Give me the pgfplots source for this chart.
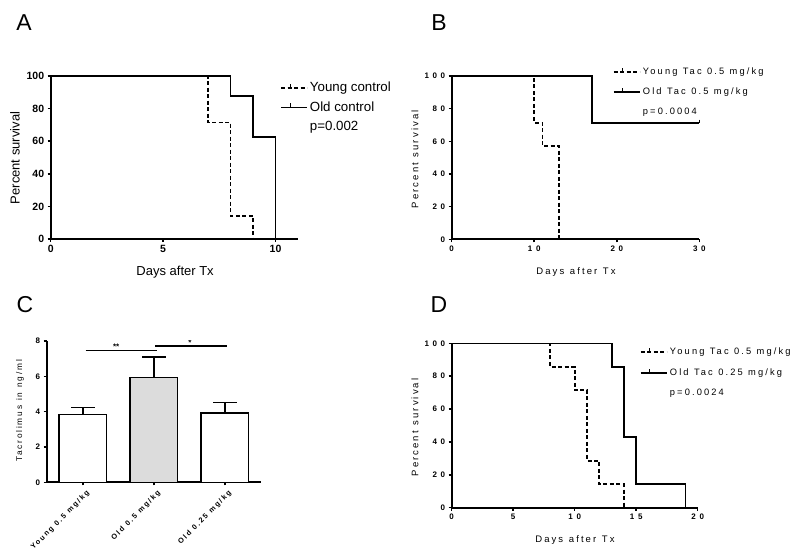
\documentclass[border=0pt]{standalone}
\usepackage{fontspec}
\setmainfont{Liberation Sans}
\newfontfamily\spc[LetterSpace=22,WordSpace=1.2]{Liberation Sans}
\newfontfamily\spl[LetterSpace=23,WordSpace=1.15]{Liberation Sans}
\newfontfamily\spt[LetterSpace=45]{Liberation Sans}
\usepackage{pgfplots}
\pgfplotsset{compat=1.18}
\definecolor{midgray}{HTML}{DCDCDC}
\pgfplotsset{
 base/.style={scale only axis, axis lines=left, axis line style={-, line width=1.8pt},
   tick style={black, line width=1.5pt}, tick align=outside, major tick length=3pt,
   /pgf/number format/assume math mode=true, clip=true},
 km/.style={base, ymin=0, ymax=100, ytick={0,20,...,100},
   legend cell align=left,
   legend image code/.code={\path (0pt,0pt) -- (26pt,0pt); \draw[##1] (0pt,0pt) -- (18pt,0pt); \draw[##1,solid,line width=1pt] (9pt,0pt) -- (9pt,4pt);}},
 dsh/.style={black, line width=1.8pt, dash pattern=on 4pt off 2.5pt, const plot},
 sld/.style={black, line width=1.8pt, const plot},
 smallfont/.style={ticklabel style={font=\spt\bfseries\fontsize{8}{9}\selectfont},
   label style={font=\spc\fontsize{9.5}{11}\selectfont}},
}
\begin{document}
\begin{tikzpicture}[x=1pt,y=1pt]
\useasboundingbox (0,0) rectangle (800,556);
\node at (24,533) {\fontsize{23}{25}\selectfont A};
\node at (439,533) {\fontsize{23}{25}\selectfont B};
\node at (25,251.5) {\fontsize{23}{25}\selectfont C};
\node at (439,251.5) {\fontsize{23}{25}\selectfont D};

% Panel A
\begin{axis}[km, at={(50.7pt,317pt)}, anchor=south west, width=247.3pt, height=163pt,
  xmin=0, xmax=11, xtick={0,5,10},
  ticklabel style={font=\bfseries\fontsize{10.5}{12}\selectfont},
  label style={font=\fontsize{13}{15}\selectfont},
  xlabel={Days after Tx}, ylabel={Percent survival},
  xlabel style={at={(axis description cs:0.503,-0.202)}, anchor=center},
  ylabel style={at={(axis description cs:-0.144,0.497)}, anchor=center},
  legend style={at={(0.927,0.975)}, anchor=north west, draw=none, fill=none,
    font=\fontsize{13.3}{15}\selectfont, inner sep=0pt, row sep=4.5pt}]
\addplot[dsh] coordinates {(0,100) (7,71.43) (8,14.29) (9,0)};
\addlegendentry{Young control}
\addplot[sld] coordinates {(0,100) (8,87.5) (9,62.5) (10,0)};
\addlegendentry{Old control}
\addlegendimage{empty legend}
\addlegendentry{p=0.002}
\end{axis}

% Panel B
\begin{axis}[km, smallfont, at={(451.7pt,316.7pt)}, anchor=south west, width=247.6pt, height=163.3pt,
  xmin=0, xmax=30, xtick={0,10,20,30},
  xlabel={Days after Tx}, ylabel={Percent survival},
  xlabel style={at={(axis description cs:0.502,-0.2)}, anchor=center},
  ylabel style={at={(axis description cs:-0.148,0.49)}, anchor=center},
  legend style={at={(0.651,1.065)}, anchor=north west, draw=none, fill=none,
    font=\spl\fontsize{9.3}{11}\selectfont, inner sep=0pt, row sep=8pt}]
\addplot[dsh] coordinates {(0,100) (10,71.43) (11,57.14) (13,0)};
\addlegendentry{Young Tac 0.5 mg/kg}
\addplot[sld] coordinates {(0,100) (17,71.43) (30,71.43)};
\addlegendentry{Old Tac 0.5 mg/kg}
\addlegendimage{empty legend}
\addlegendentry{p=0.0004}
\addplot[black, line width=1pt, only marks, mark=|, mark size=1.5pt, mark options={yshift=1.5pt}, forget plot] coordinates {(30,71.43)};
\end{axis}

% Panel C
\begin{axis}[base, smallfont, at={(46.7pt,73.7pt)}, anchor=south west, width=214.3pt, height=141.3pt,
  xmin=-0.51, xmax=2.51, ymin=0, ymax=8, ytick={0,2,4,6,8},
  xtick={0,1,2}, xticklabels={Young 0.5 mg/kg, Old 0.5 mg/kg, Old 0.25 mg/kg},
  xticklabel style={yshift=-3pt, xshift=3pt, rotate=45, anchor=north east, inner sep=1pt, font=\spl\bfseries\fontsize{7.3}{9}\selectfont},
  ylabel={Tacrolimus in ng/ml},
  ylabel style={at={(axis description cs:-0.125,0.505)}, anchor=center, font=\spc\fontsize{8.3}{10}\selectfont}]
\addplot[ybar, bar width=47.5pt, fill=white, draw=black, line width=1.4pt,
  error bars/.cd, y dir=plus, y explicit, error bar style={line width=1.5pt, black},
  error mark options={rotate=90, mark size=11.7pt, line width=1.5pt, black}]
  coordinates {(0,3.83) +- (0,0.40)};
\addplot[ybar, bar width=47.5pt, fill=midgray, draw=black, line width=1.4pt,
  error bars/.cd, y dir=plus, y explicit, error bar style={line width=1.5pt, black},
  error mark options={rotate=90, mark size=11.7pt, line width=1.5pt, black}]
  coordinates {(1,5.92) +- (0,1.17)};
\addplot[ybar, bar width=47.5pt, fill=white, draw=black, line width=1.4pt,
  error bars/.cd, y dir=plus, y explicit, error bar style={line width=1.5pt, black},
  error mark options={rotate=90, mark size=11.7pt, line width=1.5pt, black}]
  coordinates {(2,3.92) +- (0,0.59)};
\addplot[black, line width=1.4pt] coordinates {(0.04,7.47) (1.05,7.47)};
\addplot[black, line width=1.4pt] coordinates {(1.02,7.72) (2.03,7.72)};
\node[font=\bfseries\fontsize{8}{8}\selectfont, anchor=south, inner sep=0.5pt] at (axis cs:0.47,7.47) {**};
\node[font=\bfseries\fontsize{8}{8}\selectfont, anchor=south, inner sep=0.5pt] at (axis cs:1.51,7.72) {*};
\end{axis}

% Panel D
\begin{axis}[km, smallfont, at={(451.7pt,48.3pt)}, anchor=south west, width=246pt, height=164.4pt,
  xmin=0, xmax=20, xtick={0,5,...,20},
  xlabel={Days after Tx}, ylabel={Percent survival},
  xlabel style={at={(axis description cs:0.501,-0.196)}, anchor=center},
  ylabel style={at={(axis description cs:-0.149,0.488)}, anchor=center},
  legend style={at={(0.765,0.985)}, anchor=north west, draw=none, fill=none,
    font=\spl\fontsize{9.3}{11}\selectfont, inner sep=0pt, row sep=8.5pt}]
\addplot[dsh] coordinates {(0,100) (8,85.71) (10,71.43) (11,28.57) (12,14.29) (14,0)};
\addlegendentry{Young Tac 0.5 mg/kg}
\addplot[sld] coordinates {(0,100) (13,85.71) (14,42.86) (15,14.29) (19,0)};
\addlegendentry{Old Tac 0.25 mg/kg}
\addlegendimage{empty legend}
\addlegendentry{p=0.0024}
\end{axis}
\end{tikzpicture}
\end{document}
